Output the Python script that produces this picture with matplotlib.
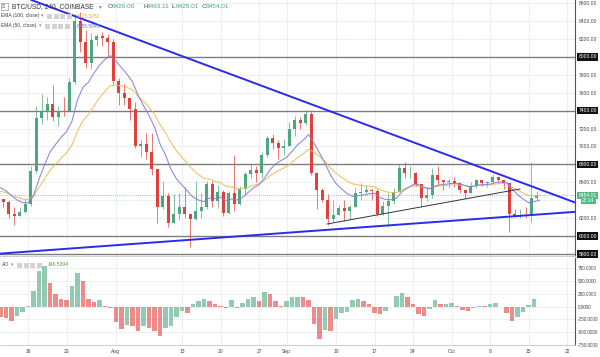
import numpy as np
import matplotlib.pyplot as plt
from matplotlib.patches import Rectangle

# BTC/USD daily candles Jul 11 .. Oct 16 (2018)
close = [6380, 6250, 6230, 6270, 6360, 6730, 7320, 7380, 7470, 7330,
         7400, 7390, 7720, 8400, 8170, 7930, 8190, 8230, 8210, 8170, 7730,
         7600, 7540, 7420, 7010, 7030, 6940, 6750, 6330, 6450, 6150,
         6250, 6320, 6250, 6190, 6280, 6320, 6580, 6390, 6490, 6260,
         6480, 6360, 6530, 6690, 6740, 6700, 6910, 7090, 7040, 6980, 7010,
         7190, 7290, 7260, 7360, 6700, 6510, 6400, 6190, 6240, 6310,
         6280, 6330, 6480, 6490, 6520, 6500, 6250, 6340, 6390, 6490,
         6760, 6700, 6700, 6580, 6430, 6460, 6680, 6630, 6600, 6620,
         6590, 6520, 6480, 6560, 6630, 6590, 6600, 6660, 6630, 6590,
         6250, 6230, 6240, 6220, 6430, 6454.01]
high = [6420, 6400, 6330, 6320, 6420, 6780, 7450, 7580, 7550, 7680,
        7450, 7550, 7760, 8480, 8500, 8300, 8270, 8250, 8280, 8250, 8200,
        7760, 7700, 7540, 7500, 7080, 7150, 7150, 6750, 6620, 6480,
        6470, 6480, 6550, 6250, 6620, 6480, 6620, 6620, 6570, 6520,
        6500, 6900, 6560, 6720, 6800, 6780, 6940, 7120, 7140, 7070, 7080,
        7270, 7340, 7330, 7410, 7390, 6720, 6540, 6470, 6400, 6350,
        6400, 6350, 6540, 6590, 6570, 6530, 6530, 6390, 6480, 6540,
        6800, 6830, 6780, 6720, 6580, 6540, 6760, 6780, 6630, 6640,
        6660, 6600, 6520, 6600, 6640, 6630, 6620, 6690, 6650, 6630,
        6590, 6300, 6300, 6330, 6830, 6500]
low = [6330, 6200, 6130, 6220, 6260, 6340, 6700, 7250, 7300, 7280,
       7230, 7340, 7390, 7700, 8050, 7880, 7860, 8120, 8120, 8000, 7700,
       7460, 7460, 7300, 6980, 6880, 6860, 6680, 6150, 6300, 6100,
       6150, 6180, 6200, 5880, 6180, 6200, 6300, 6320, 6310, 6230,
       6250, 6280, 6350, 6460, 6650, 6600, 6650, 6880, 6970, 6860, 6900,
       7000, 7120, 7200, 7240, 6680, 6300, 6380, 6120, 6160, 6240,
       6170, 6180, 6330, 6400, 6480, 6400, 6220, 6240, 6100, 6360,
       6490, 6650, 6650, 6560, 6330, 6390, 6430, 6570, 6520, 6540,
       6550, 6480, 6420, 6480, 6540, 6560, 6550, 6590, 6590, 6530,
       6050, 6210, 6200, 6200, 6160, 6400]
first_open = 6420

# awesome oscillator, one reading per day
ao = [-200, -220, -290, -180, -110, 20, 300, 700, 800, 460,
      250, 150, 130, 400, 660, 500, 150, 80, 120, 20, -30,
      -300, -450, -370, -390, -480, -380, -420, -480, -580, -420,
      -380, -200, -80, -130, 40, 110, 150, 110, 40, 20,
      -20, 120, -20, 60, 140, 190, 100, 290, 250, 100, 20,
      100, 180, 190, 190, 120, -350, -650, -470, -490, -250,
      -130, -100, 120, 150, 110, 40, -120, -150, -80, 0,
      200, 270, 190, 50, -150, -190, -50, 120, 40, 50,
      60, 10, -70, -80, -30, 20, 10, 50, 60, 0,
      -120, -290, -200, -100, 30, 146.54]

levels = [8000, 7400, 6800, 6000, 5800]
tick_days = [5, 12, 21, 33, 40, 47, 52, 61, 68, 75, 82, 89, 96, 103]
tick_labels = ['16', '23', 'Aug', '13', '20', '27', 'Sep', '10', '17', '24', 'Oct', '8', '15', '22']
ema100_start, ema50_start = 6500, 6540
last_price = 6454.01

# trendlines as (day, price) anchors
upper_line = [(13.9, 8444), (92.0, 6660)]
lower_line = [(9.0, 5846), (101.7, 6259)]
small_line = [(59.4, 6136), (94.45, 6526)]

W, H = 600, 357
FONT = ['Liberation Sans', 'DejaVu Sans']
plt.rcParams['font.family'] = FONT

UP, DOWN = '#4fa77f', '#e2403a'
AXC = '#555555'
GRID = '#e8eef4'

fig = plt.figure(figsize=(6, 3.57), dpi=100)
ax = fig.add_axes([0, 1 - 256 / H, 575 / W, 256 / H])
ax2 = fig.add_axes([0, 1 - 345 / H, 575 / W, 87 / H], sharex=ax)

def fx(x):
    return x / W

def fy(y):
    return 1 - y / H

# candles
opens = [first_open] + close[:-1]
for i in range(len(close)):
    o, c = opens[i], close[i]
    col = UP if c >= o else DOWN
    ax.vlines(i + 0.5, low[i], high[i], color=col, lw=0.5, zorder=3)
    ax.bar(i + 0.5, max(abs(c - o), 8), bottom=min(o, c), width=0.6,
           color=col, zorder=4)

# EMAs
def ema(values, n, start):
    a = 1 - (1 - 2 / (n + 1)) ** 6   # 6 four-hour bars per day
    out = [start]
    for v in values:
        out.append(out[-1] + a * (v - out[-1]))
    return out

tx = np.arange(len(close) + 1)
ax.plot(tx, ema(close, 100, ema100_start), color='#f2b84b', lw=0.8, alpha=0.85, zorder=5)
ax.plot(tx, ema(close, 50, ema50_start), color='#7a7ad8', lw=0.8, alpha=0.85, zorder=5)

# horizontal levels
for lv in levels:
    ax.axhline(lv, color='#7d7d7d', lw=1.0, zorder=2)

# trendlines
ax.axline(upper_line[0], upper_line[1], color='#2b2bea', lw=1.4, zorder=6)
ax.axline(lower_line[0], lower_line[1], color='#2b2bea', lw=1.4, zorder=6)
ax.plot([p[0] for p in small_line], [p[1] for p in small_line], color='#333333', lw=0.7, zorder=6)

# last price dotted line
ax.axhline(last_price, color='#6cc3a0', lw=0.6, ls=(0, (1, 1.5)), zorder=1)

ax.set_xlim(-0.5 / 5.5, 574.5 / 5.5)
ax.set_ylim(5779, 8633)

yt = np.arange(5800, 8601, 200)
ax.yaxis.tick_right()
ax.set_yticks(yt)
ax.set_yticklabels(['' if (v in levels or v == 6400) else f'{v:.2f}' for v in yt])
ax.tick_params(axis='y', length=0, pad=3, labelsize=3.6, labelcolor='#444444')
ax.grid(True, color=GRID, lw=0.6)
ax.set_axisbelow(True)
for s in ['top', 'left']:
    ax.spines[s].set_visible(False)
ax.spines['bottom'].set_color('#c8c8c8')
ax.spines['bottom'].set_linewidth(0.6)
ax.spines['right'].set_color(AXC)
ax.spines['right'].set_linewidth(0.8)

for lv in levels:
    ax.text(1.006, lv, f'{lv:.2f}', transform=ax.get_yaxis_transform(),
            fontsize=3.6, color='white', va='center', ha='left', clip_on=False,
            bbox=dict(boxstyle='square,pad=0.25', fc='#111111', ec='none'), zorder=10)
ax.text(1.006, last_price, f'{last_price:.2f}', transform=ax.get_yaxis_transform(),
        fontsize=3.6, color='white', va='center', ha='left', clip_on=False,
        bbox=dict(boxstyle='square,pad=0.25', fc='#53b987', ec='none'), zorder=10)
ax.text(1.012, 6395, '22:14', transform=ax.get_yaxis_transform(),
        fontsize=3.6, color='white', va='center', ha='left', clip_on=False,
        bbox=dict(boxstyle='square,pad=0.25', fc='#53b987', ec='none'), zorder=11)

# AO pane
cols = []
for i, v in enumerate(ao):
    cols.append(UP if i > 0 and v > ao[i - 1] else DOWN)
ax2.bar(np.arange(len(ao)), ao, width=0.85, color=cols, alpha=0.6, zorder=3)
ax2.set_ylim(-759, 957)
at = [-750, -500, -250, 0, 250, 500, 750]
ax2.yaxis.tick_right()
ax2.set_yticks(at)
ax2.set_yticklabels([f'{v:.4f}' for v in at])
ax2.set_xticks(tick_days)
ax2.set_xticklabels(tick_labels)
ax2.tick_params(axis='y', length=0, pad=2, labelsize=3.3, labelcolor='#444444')
ax2.tick_params(axis='x', length=0, pad=3, labelsize=3.6, labelcolor='#444444')
ax2.grid(True, color=GRID, lw=0.6)
ax2.set_axisbelow(True)
for s in ['top', 'left']:
    ax2.spines[s].set_visible(False)
ax2.spines['bottom'].set_color('#c8c8c8')
ax2.spines['bottom'].set_linewidth(0.6)
ax2.spines['right'].set_color(AXC)
ax2.spines['right'].set_linewidth(0.8)
ax.tick_params(axis='x', which='both', length=0, labelbottom=False)

# legend texts
def icons(x0, y, n=4):
    for k in range(n):
        fig.patches.append(Rectangle((fx(x0 + k * 6.5), fy(y + 2.5)), 5 / W, 5 / H,
                                     transform=fig.transFigure, fc='#d3d3d3', ec='none'))

fig.patches.append(Rectangle((fx(1), fy(10)), 7 / W, 7 / H, transform=fig.transFigure,
                             fc='white', ec='#999999', lw=0.5))
fig.text(fx(2.2), fy(6.8), '≡', fontsize=4, color='#666666', va='center')
fig.text(fx(12), fy(7), 'BTC/USD, 240, COINBASE', fontsize=4.8, color='#333333', va='center')
fig.text(fx(99), fy(7), '▾', fontsize=4, color='#888888', va='center')
ohlc = [('O', '6426.00', 108), ('H', '6493.11', 143), ('L', '6425.01', 172), ('C', '6454.01', 202)]
for k, v, x0 in ohlc:
    fig.text(fx(x0), fy(7), k, fontsize=4.6, color='#444444', va='center')
    fig.text(fx(x0 + 4), fy(7), v, fontsize=4.6, color='#45a487', va='center')

fig.text(fx(1), fy(16), 'EMA (100, close)', fontsize=3.6, color='#444444', va='center')
fig.text(fx(41), fy(16), '▾', fontsize=3.4, color='#888888', va='center')
icons(47, 16)
fig.text(fx(77), fy(16), '6415.5752', fontsize=3.6, color='#e8a634', va='center')

fig.text(fx(1), fy(26), 'EMA (50, close)', fontsize=3.6, color='#444444', va='center')
fig.text(fx(38.5), fy(26), '▾', fontsize=3.4, color='#888888', va='center')
icons(45, 26)
fig.text(fx(77), fy(26), '6355.5843', fontsize=3.6, color='#6f6fd2', va='center')

fig.text(fx(2), fy(265), 'AO', fontsize=3.6, color='#444444', va='center')
fig.text(fx(10.5), fy(265), '▾', fontsize=3.4, color='#888888', va='center')
icons(17, 265)
fig.text(fx(48), fy(265), '146.5394', fontsize=3.6, color='#5a9a3a', va='center')

fig.savefig('out.png', dpi=100, facecolor='white')
